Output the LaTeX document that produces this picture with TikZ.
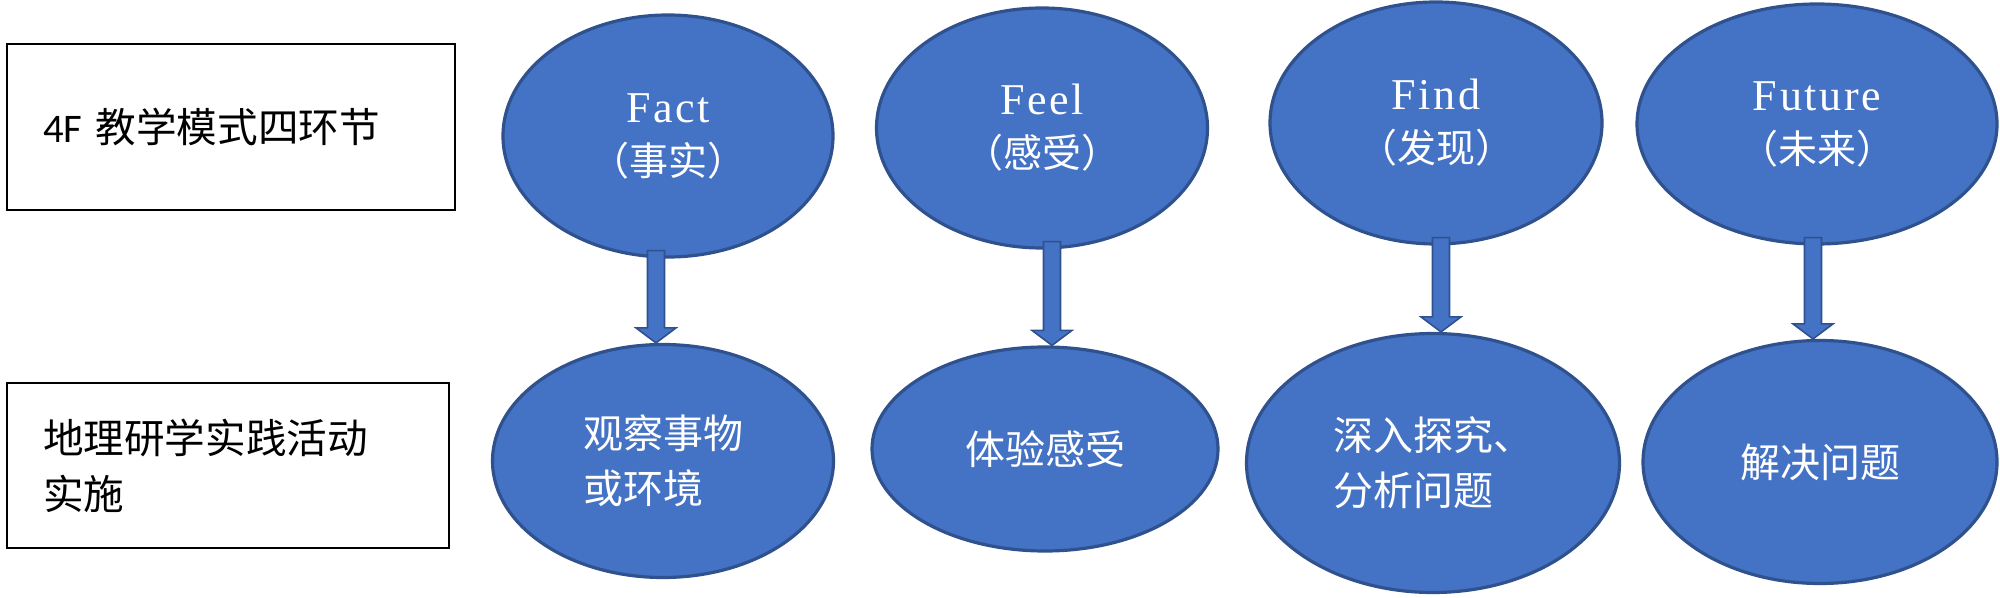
\documentclass[tikz,border=0pt]{standalone}
\usepackage{fontspec}
\setmainfont{Liberation Serif}
\newfontfamily\cjk{Noto Sans CJK SC}
\newfontfamily\latsp[LetterSpace=6]{Liberation Serif}
\newfontfamily\carl{Carlito}
\usetikzlibrary{shapes.geometric,calc}
\definecolor{ellfill}{HTML}{4472C4}
\definecolor{elldraw}{HTML}{2F528F}
\tikzset{
  ell/.style={ellipse, fill=ellfill, draw=elldraw, line width=1.6pt, inner sep=0pt, text=white, align=center},
  toptext/.style={font=\cjk\fontsize{19.5}{26.5}\selectfont},
  bottext/.style={font=\cjk\fontsize{20}{27.5}\selectfont},
  labelbox/.style={rectangle, draw=black, line width=1.3pt, fill=white, align=left, font=\cjk\fontsize{20.3}{28}\selectfont, text=black},
  barrow/.style={fill=ellfill, draw=elldraw, line width=0.8pt, line join=miter}
}
\newcommand\blkarrow[3]{%
  \draw[barrow] let \p1=(#1.south), \p2=(#2.north), \p3=(#3,0) in
    (\x3-4.25pt,\y1+4pt) -- (\x3-4.25pt,\y2+7.5pt) -- (\x3-10pt,\y2+7.5pt) -- (\x3,\y2)
    -- (\x3+10pt,\y2+7.5pt) -- (\x3+4.25pt,\y2+7.5pt) -- (\x3+4.25pt,\y1+4pt) -- cycle;}
\begin{document}
\begin{tikzpicture}[x=0.5pt,y=-0.5pt]
\useasboundingbox (0,0) rectangle (2000,598);
% left label boxes
\node[labelbox, inner xsep=18pt, text width=188pt, minimum height=83pt] (box1) at (231,127)
  {{\carl 4F} 教学模式四环节};
\node[labelbox, inner xsep=18pt, text width=185pt, minimum height=82.5pt] (box2) at (228,465.5)
  {地理研学实践活动\\实施};
% top ellipses
\node[ell, toptext, minimum width=165pt, minimum height=121pt] (fact) at (668,136)
  {{\latsp\fontsize{22}{26.5}\selectfont Fact}\\（事实）};
\node[ell, toptext, minimum width=165.5pt, minimum height=120pt] (feel) at (1042,128)
  {{\latsp\fontsize{22}{26.5}\selectfont Feel}\\（感受）};
\node[ell, toptext, minimum width=166pt, minimum height=121pt] (find) at (1436,123)
  {{\latsp\fontsize{22}{26.5}\selectfont Find}\\（发现）};
\node[ell, toptext, minimum width=180pt, minimum height=120pt] (future) at (1817,124)
  {{\latsp\fontsize{22}{26.5}\selectfont Future}\\（未来）};
% bottom ellipses
\node[ell, bottext, align=left, minimum width=170.5pt, minimum height=116.5pt] (obs) at (663,461)
  {观察事物\\或环境};
\node[ell, bottext, minimum width=173pt, minimum height=102pt] (exp) at (1045,449)
  {体验感受};
\node[ell, bottext, align=left, minimum width=186.5pt, minimum height=129.5pt] (ana) at (1433,463)
  {深入探究、\\分析问题};
\node[ell, bottext, minimum width=177pt, minimum height=121.5pt] (sol) at (1820,462)
  {解决问题};
% block arrows
\blkarrow{fact}{obs}{656}
\blkarrow{feel}{exp}{1052}
\blkarrow{find}{ana}{1441}
\blkarrow{future}{sol}{1813}
\end{tikzpicture}
\end{document}
